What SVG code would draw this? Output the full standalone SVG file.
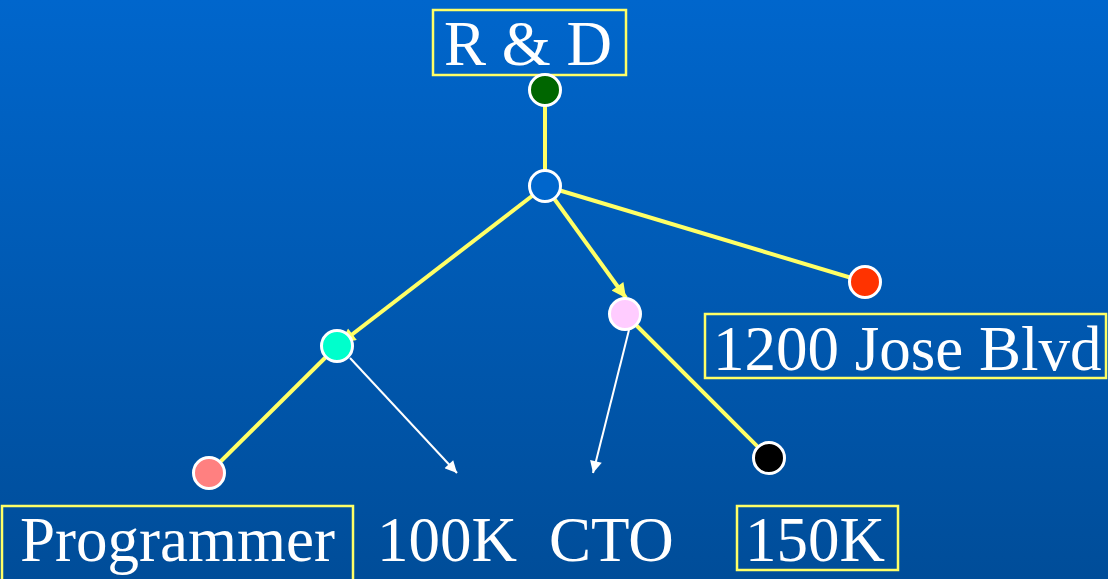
<svg xmlns="http://www.w3.org/2000/svg" width="1108" height="579" viewBox="0 0 1108 579">
  <defs>
    <linearGradient id="bg" x1="0" y1="0" x2="0" y2="1">
      <stop offset="0" stop-color="#0066CC"/>
      <stop offset="1" stop-color="#004D99"/>
    </linearGradient>
    <marker id="yHead" viewBox="0 0 10 10" refX="10" refY="5" markerWidth="3.8" markerHeight="3.6" markerUnits="strokeWidth" orient="auto">
      <path d="M0,0 L10,5 L0,10 z" fill="#FFFF66"/>
    </marker>
    <marker id="wHead" viewBox="0 0 10 10" refX="10" refY="5" markerWidth="7" markerHeight="6" markerUnits="strokeWidth" orient="auto">
      <path d="M0,0 L10,5 L0,10 z" fill="#FFFFFF"/>
    </marker>
  </defs>
  <style>
    .edge { stroke: #FFFF66; stroke-width: 4; fill: none; }
    .ref { stroke: #FFFFFF; stroke-width: 2; fill: none; }
    .node { stroke: #FFFFFF; stroke-width: 3; }
    .box { fill: none; stroke: #FFFF66; stroke-width: 2.5; }
    .label { font-family: "Liberation Serif", "Times New Roman", serif; font-size: 63px; fill: #FFFFFF; }
  </style>

  <rect x="0" y="0" width="1108" height="579" fill="url(#bg)"/>

  <!-- connectors -->
  <g id="connectors">
    <line class="edge" x1="545" y1="90" x2="545" y2="186"/>
    <line class="edge" x1="545" y1="186" x2="865" y2="282"/>
    <line class="edge" x1="545" y1="186" x2="341" y2="343" marker-end="url(#yHead)"/>
    <line class="edge" x1="545" y1="186" x2="626" y2="298" marker-end="url(#yHead)"/>
    <line class="edge" x1="337" y1="346" x2="209" y2="473"/>
    <line class="edge" x1="625" y1="314" x2="769" y2="458"/>
    <line class="ref" x1="350" y1="358" x2="457" y2="473" marker-end="url(#wHead)"/>
    <line class="ref" x1="629" y1="330" x2="593" y2="473" marker-end="url(#wHead)"/>
  </g>

  <!-- labels -->
  <g id="label-rd">
    <rect class="box" x="433" y="10" width="193" height="65"/>
    <text class="label" x="444" y="65">R &amp; D</text>
  </g>
  <g id="label-address">
    <rect class="box" x="705" y="314" width="401" height="64"/>
    <text class="label" x="713" y="370">1200 Jose Blvd</text>
  </g>
  <g id="label-programmer">
    <rect class="box" x="2" y="506" width="351" height="80"/>
    <text class="label" x="20" y="561">Programmer</text>
  </g>
  <g id="label-100k">
    <text class="label" x="377" y="561">100K</text>
  </g>
  <g id="label-cto">
    <text class="label" x="549" y="561">CTO</text>
  </g>
  <g id="label-150k">
    <rect class="box" x="737" y="506" width="161" height="64"/>
    <text class="label" x="745" y="561">150K</text>
  </g>

  <!-- nodes -->
  <g id="node-root"><circle class="node" cx="545" cy="90" r="15.5" fill="#006600"/></g>
  <g id="node-dept"><circle class="node" cx="545" cy="186" r="15.5" fill="#0066CC"/></g>
  <g id="node-addr"><circle class="node" cx="865" cy="282" r="15.5" fill="#FF3300"/></g>
  <g id="node-cto"><circle class="node" cx="625" cy="314" r="15.5" fill="#FFCCFF"/></g>
  <g id="node-emp"><circle class="node" cx="337" cy="346" r="15.5" fill="#00FFCC"/></g>
  <g id="node-title"><circle class="node" cx="209" cy="473" r="15.5" fill="#FF8080"/></g>
  <g id="node-salary"><circle class="node" cx="769" cy="458" r="15.5" fill="#000000"/></g>
</svg>
